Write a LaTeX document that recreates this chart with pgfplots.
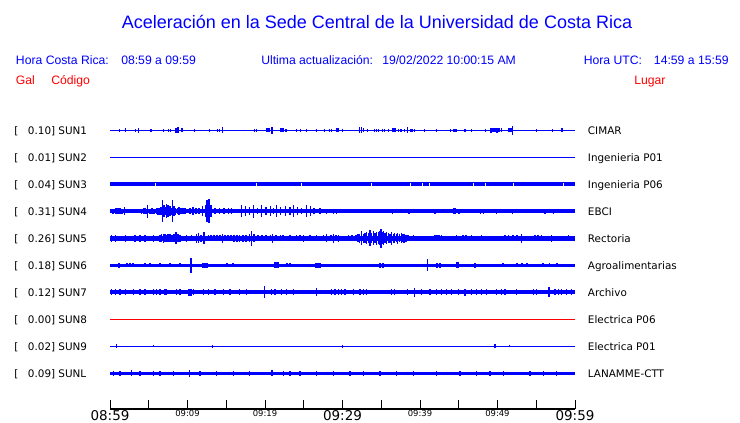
\documentclass[border=0pt]{standalone}
\usepackage{fontspec}
\setmainfont{DejaVu Sans}
\newfontfamily\arialf{Liberation Sans}
\usepackage{pgfplots}
\pgfplotsset{compat=1.18}
\usepackage{pgfplotstable}
\definecolor{sblue}{RGB}{0,0,255}
\definecolor{sred}{RGB}{255,0,0}

% spikes: t = minutes after 08:59, a = half amplitude (display units)
\pgfplotstableread{
t a
1.20 1.5
1.97 2
3.26 1.5
3.65 2.5
5.29 1.5
6.88 1.5
7.52 1.5
7.83 1.5
8.52 2.5
8.60 2.5
8.68 2.5
8.77 3
8.86 2.5
9.29 2
10.93 1.5
12.81 1.5
13.84 1.5
14.10 1.5
14.54 3
18.62 1.5
18.93 1.5
20.22 2
20.32 2
20.43 2
20.54 2
20.64 2
20.90 3.5
21.94 2
22.06 2
22.19 2
22.36 2
22.71 1.5
24.04 1.5
24.55 1.5
25.33 1.5
26.67 1.5
27.65 1.5
28.35 1.5
28.55 1.5
29.25 2
29.35 2
29.46 2
29.97 1.5
32.22 3
32.43 3
32.68 2
33.20 1.5
34.10 1.5
34.36 1.5
34.62 1.5
35.14 1.5
35.39 1.5
35.91 1.5
36.43 2
36.58 2
36.71 2
36.86 2
37.20 1.5
37.55 1.5
38.06 1.5
38.41 3
38.84 1.5
39.03 1.5
39.26 1.5
40.55 1.5
42.10 1.5
43.96 1.5
44.30 1.5
44.52 1.5
44.68 1.5
45.81 1.5
46.67 1.5
48.48 1.5
49.16 2.5
49.42 2
49.68 2
49.94 2.5
50.19 2
50.54 2
51.48 2
51.61 2
51.74 2
51.91 4.5
55.01 1.5
57.12 1.5
58.32 2
}\sunA

% dropouts (gaps) in SUN3
\pgfplotstableread{
t a
5.81 1.6
18.84 1.6
24.74 1.6
33.68 1.6
38.71 1.6
40.26 1.6
41.16 1.6
46.84 1.6
48.39 1.6
52.00 1.6
58.45 1.6
}\sunC

\pgfplotstableread{
t a
0.39 2.5
0.77 3
1.03 3
1.29 3
1.55 2.5
1.90 4
4.09 2.5
4.32 3
4.52 3
4.74 2.5
4.81 6.5
5.16 2.5
5.42 3
5.68 2.5
6.03 3
6.19 3.5
6.32 3.5
6.45 3.5
6.58 4
6.75 11
6.84 4
6.97 6
7.10 3.5
7.23 4
7.32 7
7.48 6
7.61 3.5
7.74 5
7.87 3.5
8.04 11
8.13 4
8.26 5
8.39 3.5
8.65 3
8.90 4
9.16 3
9.42 3
9.68 3
10.32 3
10.71 4
11.10 3
11.48 3
11.96 5
12.30 6
12.52 11
12.77 12
13.03 6
13.55 3
14.10 3
14.71 3
15.26 3
15.70 3
16.99 6
17.51 5
18.06 4
18.49 6.5
19.01 3
19.57 6
20.13 4
20.65 5
21.07 3
21.51 6
22.03 4
22.62 5
23.23 4
23.65 6
24.22 4
24.74 3
25.38 6
25.90 5
26.32 3
27.10 3
27.96 2.5
28.81 2.5
29.25 2.5
30.75 2
36.43 2.5
38.58 2.5
41.94 2.5
44.30 3
44.52 3
45.03 2.5
46.23 2
47.83 2.5
48.17 2.5
49.90 2.5
51.06 2
51.96 2.5
56.13 2.5
57.20 2.5
58.49 2
}\sunD

\pgfplotstableread{
t a
0.22 3.5
0.65 3.5
1.94 3.5
3.23 3.5
3.87 3.5
4.52 3.5
5.59 3.5
6.45 3.5
6.65 4
6.88 4.5
7.10 4
7.29 3.5
7.48 4
7.74 4
8.00 3.5
8.26 4
8.52 5.8
8.71 4
8.86 4
9.03 3.5
9.90 3.5
10.54 3
11.19 4.5
11.45 5
11.74 3.5
12.13 6
12.65 3
13.03 3
13.42 3
13.81 3
14.19 3
14.49 4.5
14.84 3
15.23 3
15.61 3
16.00 3.5
16.39 3.5
16.77 3.5
17.16 3.5
17.55 3.5
17.97 4
18.28 7.3
18.58 4
19.10 3
19.61 3
20.13 3
20.65 3
20.99 4.5
21.42 3
21.94 3
22.32 3
23.23 3
24.09 3
24.52 3
24.94 3.5
25.81 3
26.67 3
27.52 3
27.96 4
28.52 3
28.81 4.5
29.16 3
29.46 3.5
30.75 3
31.23 3
31.74 3
32.00 4
32.19 4.5
32.48 7
32.71 4.5
32.90 5
33.12 6
33.35 5
33.55 8
33.74 5
33.97 7
34.19 5
34.41 6.5
34.65 6
34.84 7
34.97 9.5
35.10 6
35.26 7
35.48 5
35.70 6
35.94 5
36.13 4.5
36.35 6.5
36.58 4.5
36.77 5
36.97 4
37.12 5.5
37.35 4
37.64 5
37.81 4
37.94 4.5
38.19 3.5
38.45 3
39.14 3
41.94 3
42.19 3
42.45 3
42.80 3
44.74 3
45.55 3
45.94 3
46.67 3
47.96 3
50.97 3
51.48 3
52.00 3
52.52 3
53.12 4.5
54.84 3
55.23 3
55.70 3
56.99 3.5
59.14 3
}\sunE

\pgfplotstableread{
t a
1.16 2.5
2.19 2
2.58 2
2.97 2
4.52 2.2
5.16 2.2
6.45 2.2
7.74 2.2
9.03 2.2
10.45 7.5
12.00 2.5
12.26 2.5
12.52 2.5
15.10 2.2
15.87 2.2
21.29 3
21.48 3
21.68 3
22.84 2.2
23.23 2.2
26.58 2.5
26.84 2.5
27.10 2.5
34.84 2.5
35.23 2.5
40.94 6
42.19 2.5
42.58 2.5
44.74 3
44.90 3
47.10 2.5
50.71 2.2
52.52 2.2
53.16 2.2
53.81 2.2
55.87 2.2
56.77 2.2
57.68 2.2
}\sunF

\pgfplotstableread{
t a
0.22 3
0.65 3
1.29 3
2.06 3
3.01 3
3.87 3
4.52 3
5.59 3
6.03 3
6.45 3
7.10 3
7.32 3
8.61 3
9.03 3
10.10 3.5
10.32 3.5
10.54 3.5
10.75 3
12.04 3
12.68 3
13.55 3
14.62 3
15.48 3
16.77 3
17.64 3
19.91 6
20.86 3
21.29 3
22.15 3
22.80 3
23.65 3
26.67 4
28.61 3
29.03 3
29.46 3
29.90 3
30.32 3
31.39 3
32.26 3
32.68 3
33.12 3
36.35 3
36.77 3
38.39 3
39.35 4.5
40.22 3
41.29 3
42.15 3
42.80 3
43.45 3
44.09 3
44.94 3
45.81 3.5
46.67 3
47.32 3
47.96 3
48.61 3
49.90 3
50.54 3
50.97 3
52.48 3
54.62 3
55.05 3
56.65 5
57.42 3
57.85 3
58.28 3
58.93 3
59.57 3
}\sunG

\pgfplotstableread{
t a
0.86 2
5.59 1
13.20 1.5
29.97 1.5
49.68 2
51.52 1
}\sunI

\pgfplotstableread{
t a
0.43 2.5
1.29 2.5
2.80 3
3.87 2.5
5.59 2.5
6.45 2.5
8.17 2.5
10.23 3.5
11.61 2.5
13.77 2.5
15.91 2.5
18.06 2.5
20.90 3
22.36 2.5
23.23 2.5
24.52 2.5
26.67 2.5
28.81 2.5
30.97 2.5
32.68 2.5
34.84 2.5
36.99 2.5
39.14 2.5
42.15 2.5
45.16 2.5
47.32 2.5
49.03 2.5
50.75 2.5
54.19 2.5
55.91 2.5
57.64 2.5
}\sunL

\pgfplotsset{
  spikes/.style={draw=none, mark=none, forget plot,
    error bars/.cd, y dir=both, y explicit, error mark=none,
    error bar style={draw=sblue, solid, line width=0.8pt}},
  gaps/.style={draw=none, mark=none, forget plot,
    error bars/.cd, y dir=both, y explicit, error mark=none,
    error bar style={draw=white, solid, line width=0.6pt}},
}

\begin{document}
\begin{tikzpicture}
\path[use as bounding box] (0,0) rectangle (555pt,317.25pt);
\begin{axis}[
  at={(82.5pt,10.5pt)}, anchor=south west,
  scale only axis, width=348.75pt, height=216.75pt,
  xmin=0, xmax=60, ymin=14, ymax=303,
  clip=false,
  axis x line=bottom, axis y line=none,
  x axis line style={-, black, line width=0.8pt},
  tick align=inside, major tick length=7pt,
  tick style={black, line width=0.6pt},
  xtick={0,5,...,60},
  xticklabels={{\fontsize{10.1}{12}\selectfont 08:59},{},
    {\fontsize{6.3}{7}\selectfont 09:09},{},
    {\fontsize{6.3}{7}\selectfont 09:19},{},
    {\fontsize{10.1}{12}\selectfont 09:29},{},
    {\fontsize{6.3}{7}\selectfont 09:39},{},
    {\fontsize{6.3}{7}\selectfont 09:49},{},
    {\fontsize{10.1}{12}\selectfont 09:59}},
  xticklabel style={anchor=north, inner sep=0pt, yshift=-0.8pt},
  ytick=\empty,
]
% SUN1
\addplot[sblue, line width=1pt] coordinates {(0,292.7) (60,292.7)};
\addplot[spikes] table[x=t, y expr=292.7, y error=a] {\sunA};
% SUN2
\addplot[sblue, line width=0.8pt] coordinates {(0,265.7) (60,265.7)};
% SUN3
\addplot[sblue, line width=2.7pt] coordinates {(0,238.7) (60,238.7)};
\addplot[gaps] table[x=t, y expr=238.7, y error=a] {\sunC};
% SUN4
\addplot[sblue, line width=3pt] coordinates {(0,211.7) (60,211.7)};
\addplot[spikes] table[x=t, y expr=211.7, y error=a] {\sunD};
% SUN5
\addplot[sblue, line width=3.6pt] coordinates {(0,184.7) (60,184.7)};
\addplot[spikes] table[x=t, y expr=184.7, y error=a] {\sunE};
% SUN6
\addplot[sblue, line width=2.5pt] coordinates {(0,157.7) (60,157.7)};
\addplot[spikes] table[x=t, y expr=157.7, y error=a] {\sunF};
% SUN7
\addplot[sblue, line width=3pt] coordinates {(0,130.7) (60,130.7)};
\addplot[spikes] table[x=t, y expr=130.7, y error=a] {\sunG};
% SUN8
\addplot[sred, line width=0.8pt] coordinates {(0,103.7) (60,103.7)};
% SUN9
\addplot[sblue, line width=0.8pt] coordinates {(0,76.7) (60,76.7)};
\addplot[spikes] table[x=t, y expr=76.7, y error=a] {\sunI};
% SUNL
\addplot[sblue, line width=2.5pt] coordinates {(0,49.7) (60,49.7)};
\addplot[spikes] table[x=t, y expr=49.7, y error=a] {\sunL};
\end{axis}

\begin{scope}[x=0.75pt,y=-0.75pt,shift={(0pt,317.25pt)}]
\node[anchor=base, inner sep=0pt, text=sblue, font=\arialf\fontsize{13.5}{16}\selectfont] at (377,28.8) {Aceleración en la Sede Central de la Universidad de Costa Rica};
\begin{scope}[every node/.style={anchor=base west, inner sep=0pt, font=\arialf\fontsize{9.15}{11}\selectfont}]
\node[text=sblue] at (15.7,64.3) {Hora Costa Rica:};
\node[text=sblue] at (121,64.3) {08:59 a 09:59};
\node[text=sblue] at (261,64.3) {Ultima actualización:};
\node[text=sblue] at (382,64.3) {19/02/2022 10:00:15 AM};
\node[text=sblue] at (583.5,64.3) {Hora UTC:};
\node[text=sblue] at (653.7,64.3) {14:59 a 15:59};
\node[text=sred] at (15.7,84.3) {Gal};
\node[text=sred] at (51,84.3) {Código};
\node[text=sred] at (634,84.3) {Lugar};
\end{scope}
\begin{scope}[every node/.style={anchor=base west, inner sep=0pt, font=\fontsize{7.8}{9}\selectfont}]
\foreach \v/\c/\p [count=\i from 0] in {0.10/SUN1/CIMAR, 0.01/SUN2/Ingenieria P01, 0.04/SUN3/Ingenieria P06, 0.31/SUN4/EBCI, 0.26/SUN5/Rectoria, 0.18/SUN6/Agroalimentarias, 0.12/SUN7/Archivo, 0.00/SUN8/Electrica P06, 0.02/SUN9/Electrica P01, 0.09/SUNL/LANAMME-CTT}{
  \node at (14,{134.1+27*\i}) {[};
  \node at (27.7,{134.1+27*\i}) {\v] \c};
  \node at (587.7,{134.1+27*\i}) {\p};
}
\end{scope}
\end{scope}
\end{tikzpicture}
\end{document}
